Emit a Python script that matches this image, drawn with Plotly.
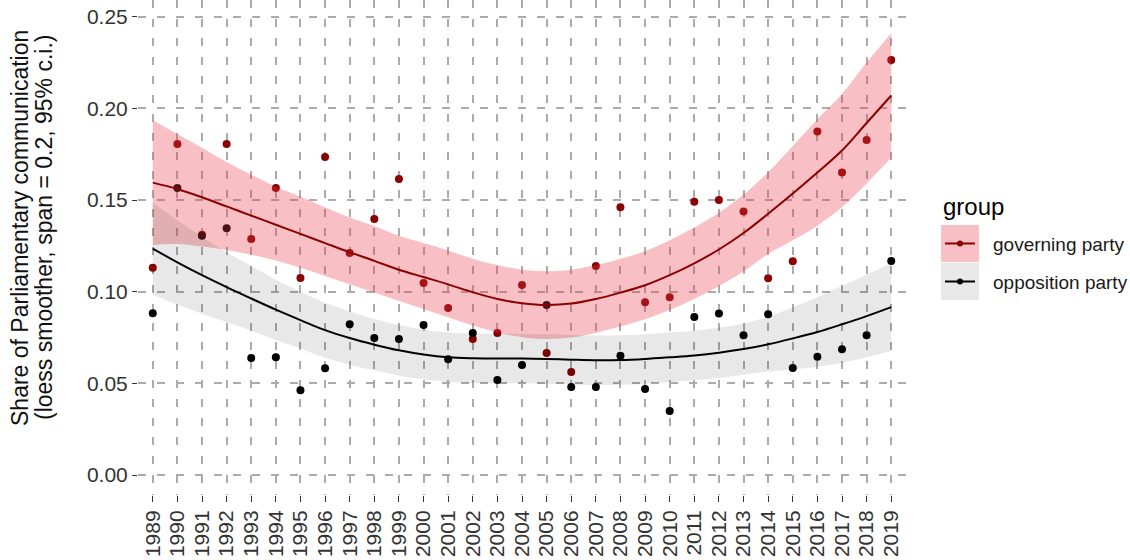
import plotly.graph_objects as go

# ---------------- data ----------------
years = list(range(1989, 2020))
year_labels = [str(y) for y in years]

gov_share = [0.113, 0.1805, 0.131, 0.1805, 0.1287, 0.1565, 0.1074, 0.1734, 0.1211, 0.1396,
             0.1614, 0.1047, 0.0911, 0.0742, 0.0774, 0.1036, 0.0665, 0.0562, 0.114, 0.1461,
             0.0943, 0.097, 0.149, 0.150, 0.1438, 0.1073, 0.1166, 0.1874, 0.165, 0.1828, 0.2264]
opp_share = [0.0883, 0.1565, 0.1305, 0.1346, 0.0638, 0.0643, 0.0463, 0.0583, 0.0823, 0.0747,
             0.0742, 0.0818, 0.0632, 0.0774, 0.0518, 0.060, 0.0927, 0.048, 0.048, 0.065,
             0.0469, 0.0349, 0.0862, 0.0881, 0.0763, 0.0877, 0.0584, 0.0645, 0.0686, 0.0763, 0.1167]

# loess fits and 95% bands
gov_fit = [0.1595, 0.156, 0.1515, 0.1465, 0.1415, 0.1365, 0.1315, 0.1265, 0.1215, 0.1168,
           0.112, 0.108, 0.104, 0.0997, 0.096, 0.0937, 0.0927, 0.0935, 0.096, 0.0995,
           0.1035, 0.109, 0.1155, 0.123, 0.132, 0.1425, 0.1535, 0.165, 0.177, 0.192, 0.207]
gov_upper = [0.1935, 0.186, 0.1785, 0.1707, 0.1638, 0.1573, 0.1518, 0.146, 0.1405, 0.1358,
             0.1305, 0.1265, 0.1225, 0.118, 0.1145, 0.112, 0.1112, 0.112, 0.1145, 0.118,
             0.122, 0.128, 0.135, 0.143, 0.153, 0.1652, 0.1795, 0.194, 0.208, 0.225, 0.241]
gov_lower = [0.1255, 0.126, 0.1246, 0.1227, 0.1202, 0.117, 0.113, 0.1085, 0.104, 0.0995,
             0.095, 0.0905, 0.086, 0.0815, 0.0778, 0.0752, 0.0742, 0.075, 0.0775, 0.081,
             0.085, 0.090, 0.096, 0.103, 0.111, 0.1205, 0.128, 0.136, 0.146, 0.159, 0.173]

opp_fit = [0.1235, 0.116, 0.109, 0.1025, 0.0963, 0.0902, 0.0845, 0.079, 0.0747, 0.0711,
           0.068, 0.0657, 0.0642, 0.0637, 0.0636, 0.0635, 0.0633, 0.0629, 0.0626, 0.0627,
           0.0633, 0.0642, 0.0652, 0.0667, 0.0687, 0.0713, 0.0745, 0.078, 0.0822, 0.0867, 0.0916]
opp_upper = [0.1485, 0.139, 0.130, 0.1215, 0.114, 0.1065, 0.100, 0.094, 0.0892, 0.0851,
             0.0818, 0.0792, 0.0777, 0.0772, 0.0771, 0.077, 0.0768, 0.0764, 0.0761, 0.0762,
             0.0768, 0.0777, 0.0787, 0.0805, 0.0827, 0.0862, 0.0915, 0.097, 0.1032, 0.1092, 0.1156]
opp_lower = [0.0985, 0.093, 0.088, 0.0835, 0.0788, 0.0737, 0.069, 0.064, 0.0602, 0.0571,
             0.0542, 0.0522, 0.0507, 0.0502, 0.0501, 0.05, 0.0498, 0.0494, 0.0491, 0.0492,
             0.0498, 0.0507, 0.0517, 0.0529, 0.0547, 0.0564, 0.0575, 0.059, 0.0612, 0.0642, 0.0676]

groups = ["governing party", "opposition party"]

# ---------------- styles ----------------
FONT = "Liberation Sans, Arial, Helvetica, sans-serif"
RED = "#8B0000"
BLACK = "#000000"
PINK_FILL = "rgba(232,60,70,0.32)"
GRAY_FILL = "rgba(0,0,0,0.09)"
GRID = "#ABABAB"
GRID_DASH = "8px,11px"

W, H = 1130, 560
L, R, T, B = 138, 224, 0, 65
X_RANGE = [1988.4, 2019.6]
Y_RANGE = [-0.0109, 0.2591]

fig = go.Figure()

# points (drawn beneath the ribbons, like ggplot)
fig.add_trace(go.Scatter(x=years, y=gov_share, mode="markers",
                         marker=dict(color=RED, size=8), showlegend=False, hoverinfo="skip"))
fig.add_trace(go.Scatter(x=years, y=opp_share, mode="markers",
                         marker=dict(color=BLACK, size=8), showlegend=False, hoverinfo="skip"))

def add_smooth(fit, lower, upper, fill, line_color):
    fig.add_trace(go.Scatter(x=years, y=lower, mode="lines",
                             line=dict(width=0, shape="spline", smoothing=1),
                             showlegend=False, hoverinfo="skip"))
    fig.add_trace(go.Scatter(x=years, y=upper, mode="lines", fill="tonexty",
                             fillcolor=fill, line=dict(width=0, shape="spline", smoothing=1),
                             showlegend=False, hoverinfo="skip"))
    fig.add_trace(go.Scatter(x=years, y=fit, mode="lines",
                             line=dict(color=line_color, width=2, shape="spline", smoothing=1),
                             showlegend=False, hoverinfo="skip"))

add_smooth(gov_fit, gov_lower, gov_upper, PINK_FILL, RED)
add_smooth(opp_fit, opp_lower, opp_upper, GRAY_FILL, BLACK)

pw = W - L - R
ph = H - T - B

def px(xp):
    return (xp - L) / pw

def py(yp):
    return (H - B - yp) / ph

# ---------------- manual legend ----------------
shapes = []
annotations = []
annotations.append(dict(text="group", x=px(941), y=py(206), xref="paper", yref="paper",
                        xanchor="left", yanchor="middle", showarrow=False,
                        font=dict(family=FONT, size=24, color="#000")))
key_rows = [(225, 262, PINK_FILL, RED, groups[0]), (263, 300, GRAY_FILL, BLACK, groups[1])]
for y0, y1, fill, col, label in key_rows:
    shapes.append(dict(type="rect", xref="paper", yref="paper", x0=px(941), x1=px(979),
                       y0=py(y1), y1=py(y0), fillcolor=fill, line=dict(width=0)))
    yc = (y0 + y1) / 2
    shapes.append(dict(type="line", xref="paper", yref="paper", x0=px(945), x1=px(975),
                       y0=py(yc), y1=py(yc), line=dict(color=col, width=2)))
    shapes.append(dict(type="circle", xref="paper", yref="paper", x0=px(957), x1=px(963),
                       y0=py(yc + 3), y1=py(yc - 3), fillcolor=col, line=dict(width=0)))
    annotations.append(dict(text=label, x=px(991), y=py(yc + 1), xref="paper", yref="paper",
                            xanchor="left", yanchor="middle", showarrow=False,
                            font=dict(family=FONT, size=19, color="#1a1a1a")))

# ---------------- y axis title (two lines) ----------------
annotations.append(dict(text="Share of Parliamentary communication", textangle=-90,
                        x=px(20), y=py(228), xref="paper", yref="paper",
                        xanchor="center", yanchor="middle", showarrow=False,
                        font=dict(family=FONT, size=23, color="#111")))
annotations.append(dict(text="(loess smoother, span = 0.2, 95% c.i.)", textangle=-90,
                        x=px(44), y=py(228), xref="paper", yref="paper",
                        xanchor="center", yanchor="middle", showarrow=False,
                        font=dict(family=FONT, size=23, color="#111")))

fig.update_layout(
    width=W, height=H,
    margin=dict(l=L, r=R, t=T, b=B, pad=0),
    paper_bgcolor="white", plot_bgcolor="white",
    showlegend=False,
    shapes=shapes, annotations=annotations,
    font=dict(family=FONT),
)
fig.update_xaxes(range=X_RANGE, tickmode="array", tickvals=years, ticktext=year_labels,
                 tickangle=-90, showgrid=True, gridcolor=GRID, gridwidth=1.6, griddash=GRID_DASH,
                 ticks="outside", ticklen=6, tickcolor="#333", tickwidth=1,
                 tickfont=dict(family=FONT, size=21, color="#333"),
                 zeroline=False, showline=False)
fig.update_yaxes(range=Y_RANGE, tickmode="array",
                 tickvals=[0, 0.05, 0.10, 0.15, 0.20, 0.25],
                 ticktext=["0.00", "0.05", "0.10", "0.15", "0.20", "0.25"],
                 showgrid=True, gridcolor=GRID, gridwidth=1.6, griddash=GRID_DASH,
                 ticks="outside", ticklen=5, tickcolor="#333", tickwidth=1,
                 tickfont=dict(family=FONT, size=21, color="#333"),
                 zeroline=False, showline=False)

fig.write_html("out.html")
